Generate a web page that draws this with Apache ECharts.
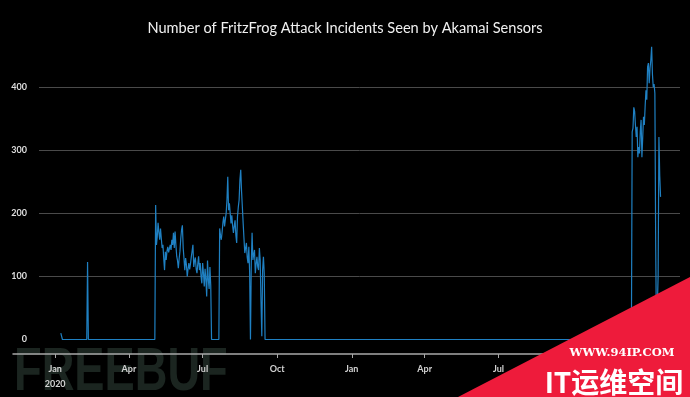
<!DOCTYPE html>
<html>
<head>
<meta charset="utf-8">
<script src="https://cdn.jsdelivr.net/npm/echarts@6/dist/echarts.min.js"></script>
<style>
  html, body { margin: 0; padding: 0; background: #000; }
  #chart { width: 690px; height: 397px; }
</style>
</head>
<body>
<div id="chart"></div>
<script>
// 零星的数据点（其余时间为 0）
const anchorDates = ['2020-01-08', '2020-01-10', '2020-02-09', '2020-02-10', '2020-02-11', '2020-05-03', '2020-07-21', '2021-12-12']
const anchorValues = [10, 0, 0, 123, 0, 0, 0, 0]

// 2020 春季爆发，每天一个值
const springStart = [2020, 4, 4]
const springValues = [213, 150, 163, 185, 170, 158, 176, 160, 145, 150, 128, 110, 139, 126, 140, 147, 138, 135, 150, 142,
  158, 150, 169, 145, 171, 150, 132, 125, 113, 128, 140, 160, 174, 181, 145, 128, 110, 129, 118, 100,
  112, 121, 111, 120, 131, 140, 150, 115, 125, 130, 112, 105, 120, 132, 110, 121, 100, 89, 121, 105,
  84, 112, 95, 68, 125, 95, 80, 115, 85, 0]

// 2020 夏季爆发
const summerStart = [2020, 6, 22]
const summerValues = [176, 165, 158, 170, 185, 195, 179, 190, 200, 221, 258, 205, 216, 200, 184, 197, 180, 169, 180, 189,
  165, 153, 195, 210, 221, 253, 269, 235, 210, 184, 160, 137, 145, 153, 130, 121, 147, 105, 0, 120,
  169, 126, 135, 142, 105, 120, 131, 115, 110, 145, 126, 60, 5, 110, 131, 105, 0]

// 2021 年底回归
const winterStart = [2021, 11, 13]
const winterValues = [329, 335, 368, 362, 340, 321, 337, 289, 305, 295, 330, 348, 289, 320, 353, 340, 370, 395, 380, 432,
  438, 406, 430, 443, 464, 420, 400, 405, 390, 150, 0, 0, 100, 321, 260, 226]

const yTicks = [0, 100, 200, 300, 400]
const monthNames = ['Jan', 'Feb', 'Mar', 'Apr', 'May', 'Jun', 'Jul', 'Aug', 'Sep', 'Oct', 'Nov', 'Dec']

function parseDay (s) {
  const p = s.split('-').map(Number)
  return new Date(p[0], p[1] - 1, p[2]).getTime()
}
function dailyPoints (start, values) {
  return values.map((v, i) => [new Date(start[0], start[1], start[2] + i).getTime(), v])
}

let seriesData = anchorDates.map((d, i) => [parseDay(d), anchorValues[i]])
  .concat(dailyPoints(springStart, springValues))
  .concat(dailyPoints(summerStart, summerValues))
  .concat(dailyPoints(winterStart, winterValues))
seriesData.sort((a, b) => a[0] - b[0])

const xMin = parseDay('2019-11-10')
const xMax = parseDay('2022-02-10')
const DAY = 24 * 3600 * 1000
const gridLine = '#4a4a4a'
const axisColor = '#a8a8a8'

const chart = echarts.init(document.getElementById('chart'))
const option = {
  backgroundColor: '#000',
  animation: false,
  title: {
    text: 'Number of FritzFrog Attack Incidents Seen by Akamai Sensors',
    left: 'center',
    top: 16,
    textStyle: { color: '#f0f0f0', fontSize: 14.6, fontWeight: 'normal', fontFamily: 'Lato' }
  },
  grid: [
    // 数据网格
    { left: 13, right: 10, top: 24, bottom: 57.5 },
    // y 轴标签和横向网格线
    { left: 39, right: 10, top: 24, bottom: 57.5 },
    // x 轴，画在 0 线下方一点
    { left: 13, right: 10, top: 24, bottom: 43 }
  ],
  xAxis: [
    { type: 'time', gridIndex: 0, min: xMin, max: xMax, show: false },
    { type: 'time', gridIndex: 1, min: xMin, max: xMax, show: false },
    {
      type: 'time',
      gridIndex: 2,
      min: xMin,
      max: xMax,
      splitNumber: 9,
      minInterval: 80 * DAY,
      maxInterval: 100 * DAY,
      axisLine: { show: true, lineStyle: { color: axisColor, width: 1.5 } },
      axisTick: { show: true, length: 4, lineStyle: { color: axisColor } },
      splitLine: { show: false },
      axisLabel: {
        color: '#d2d2d2',
        fontSize: 9,
        fontWeight: 'bold',
        fontFamily: 'Lato',
        margin: 8,
        lineHeight: 15,
        formatter: function (value) {
          const d = new Date(value)
          const name = monthNames[d.getMonth()]
          if (d.getFullYear() === 2020 && d.getMonth() === 0) return name + '\n2020'
          return name
        }
      }
    }
  ],
  yAxis: [
    { type: 'value', gridIndex: 0, min: 0, max: 500, show: false },
    {
      type: 'value',
      gridIndex: 1,
      min: 0,
      max: 500,
      interval: 100,
      axisLine: { show: false },
      axisTick: { show: false },
      axisLabel: {
        color: '#dedede',
        fontSize: 9,
        fontWeight: 'bold',
        fontFamily: 'Lato',
        margin: 12,
        formatter: v => (yTicks.indexOf(v) >= 0 ? String(v) : '')
      },
      splitLine: {
        show: true,
        lineStyle: { color: ['rgba(0,0,0,0)', gridLine, gridLine, gridLine, gridLine, 'rgba(0,0,0,0)'], width: 1 }
      }
    },
    { type: 'value', gridIndex: 2, min: 0, max: 500, show: false }
  ],
  series: [
    {
      type: 'line',
      xAxisIndex: 0,
      yAxisIndex: 0,
      data: seriesData,
      showSymbol: false,
      clip: false,
      lineStyle: { color: '#1f80c2', width: 1.2 },
      itemStyle: { color: '#1f80c2' }
    }
  ],
  graphic: [
    // FREEBUF 水印
    {
      type: 'text',
      left: 14,
      top: 342,
      z: 0,
      scaleX: 0.73,
      style: { text: 'FREEBUF', font: 'bold 62px "Liberation Sans"', fill: '#1b2520' }
    },
    // 右下角红色三角
    {
      type: 'polygon',
      z: 100,
      shape: { points: [[458, 397], [690, 277], [690, 397]] },
      style: { fill: '#ee1b3b' }
    },
    {
      type: 'text',
      z: 101,
      x: 622,
      y: 353,
      style: { text: 'WWW.94IP.COM', font: 'bold 11.5px "DejaVu Serif"', fill: '#fff', align: 'center', verticalAlign: 'middle' }
    },
    {
      type: 'text',
      z: 101,
      x: 614,
      y: 382,
      style: { text: 'IT运维空间', font: 'bold 28px "Noto Sans CJK SC"', fill: '#fff', align: 'center', verticalAlign: 'middle' }
    }
  ]
}
chart.setOption(option)
</script>
</body>
</html>
